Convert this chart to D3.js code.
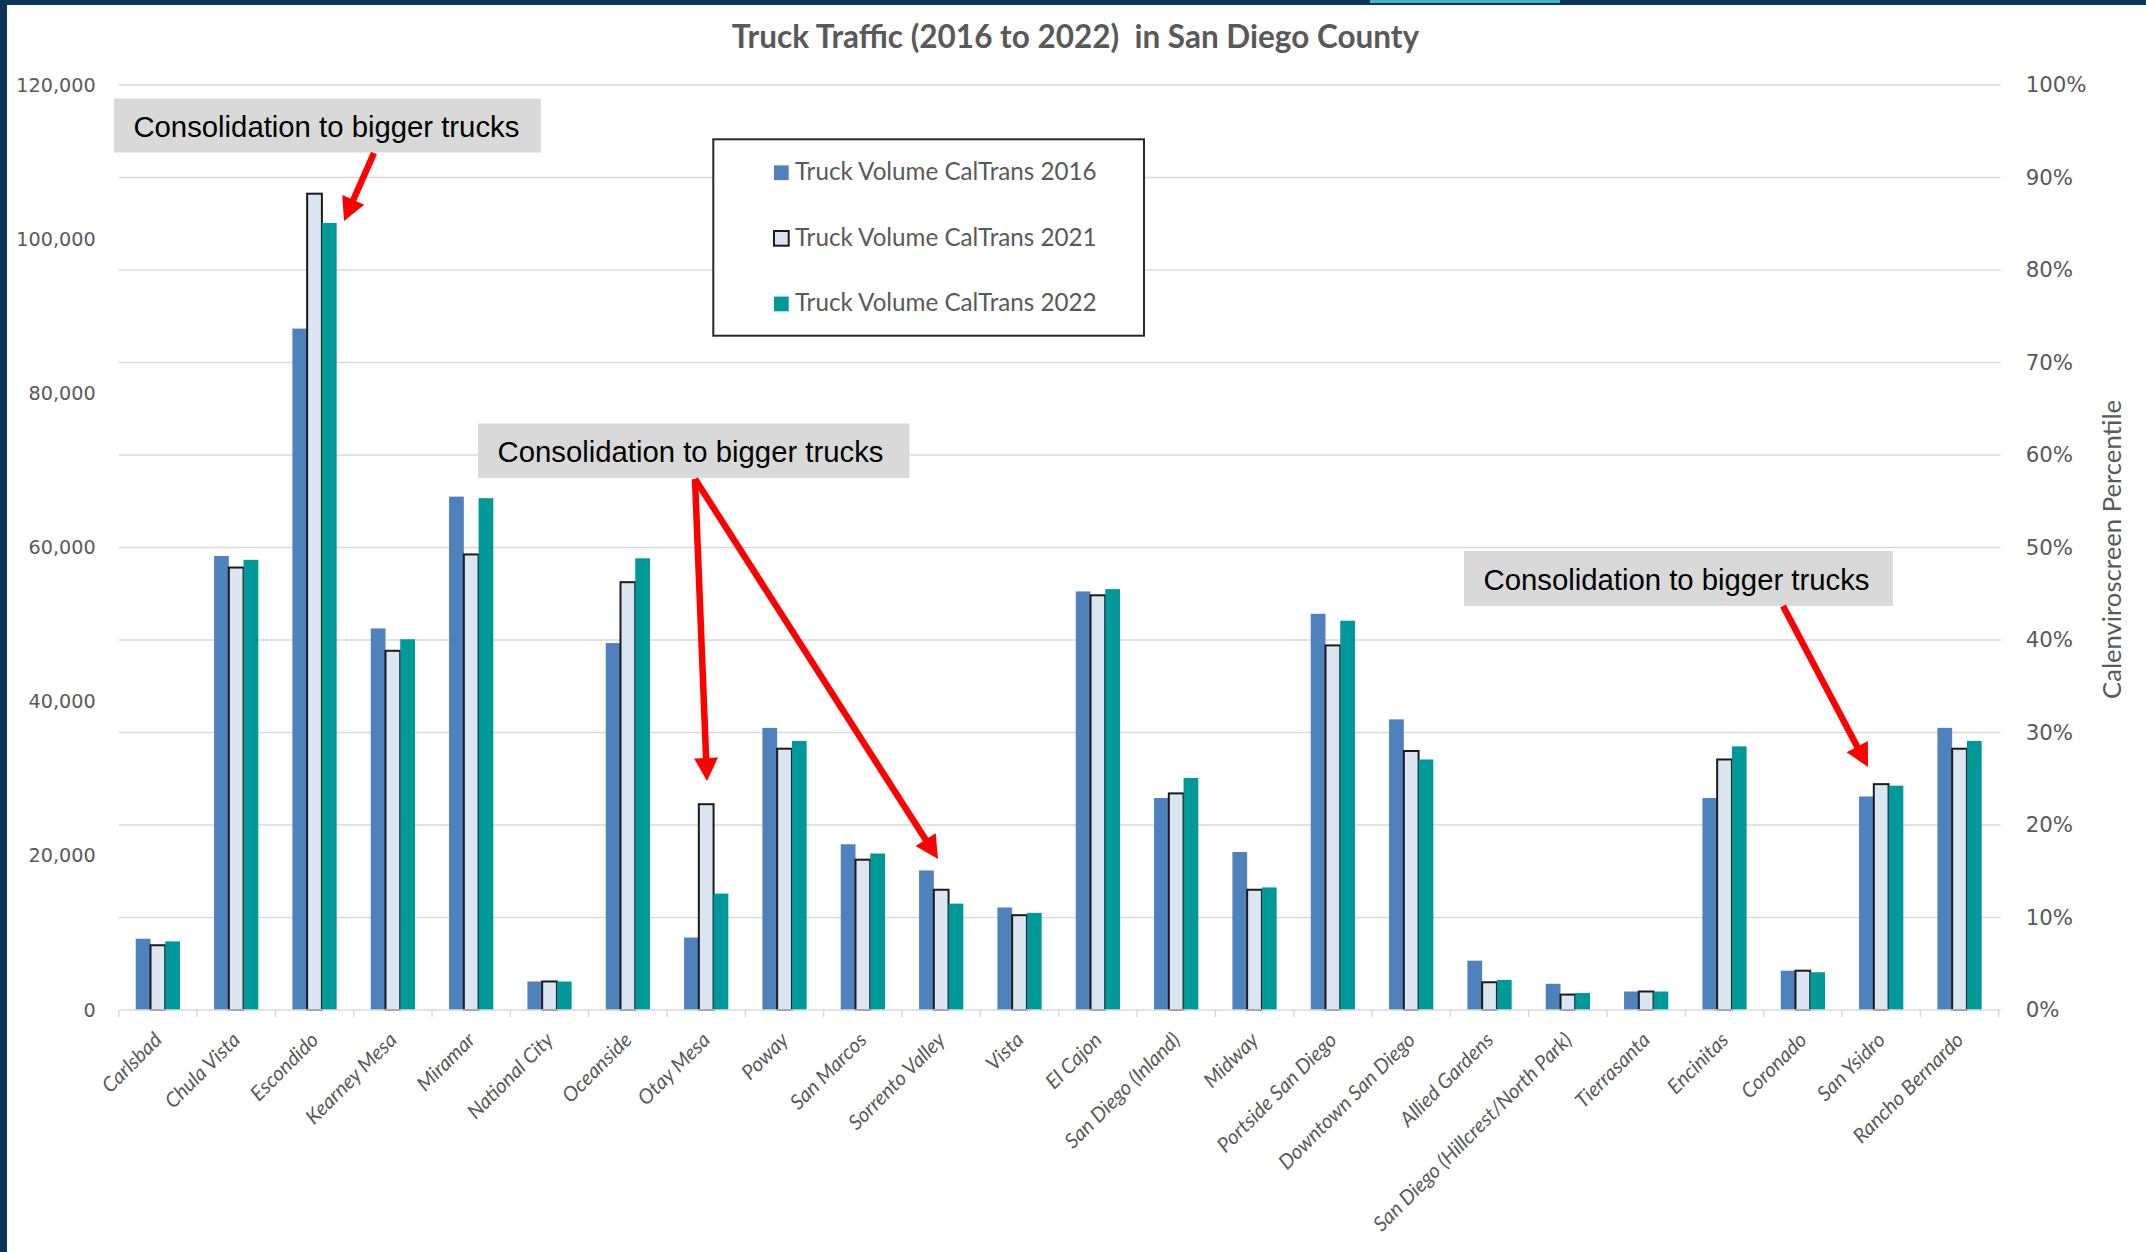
<!DOCTYPE html>
<html>
<head>
<meta charset="utf-8">
<script src="https://cdn.jsdelivr.net/npm/d3@7"></script>
<style>
  html, body { margin: 0; padding: 0; background: #ffffff; }
  svg { display: block; }
</style>
</head>
<body>
<svg id="chart" width="2146" height="1252"></svg>
<script>
// ---- data -------------------------------------------------------------
const categories = [
  "Carlsbad", "Chula Vista", "Escondido", "Kearney Mesa", "Miramar", "National City",
  "Oceanside", "Otay Mesa", "Poway", "San Marcos", "Sorrento Valley", "Vista",
  "El Cajon", "San Diego (Inland)", "Midway", "Portside San Diego", "Downtown San Diego",
  "Allied Gardens", "San Diego (Hillcrest/North Park)", "Tierrasanta", "Encinitas",
  "Coronado", "San Ysidro", "Rancho Bernardo"
];
const truck2016 = [9250, 58900, 88400, 49500, 66600, 3700, 47600, 9400, 36600, 21500, 18100, 13300,
                   54300, 27500, 20500, 51400, 37700, 6400, 3400, 2400, 27500, 5100, 27700, 36600];
const truck2021 = [8400, 57400, 105900, 46600, 59100, 3700, 55500, 26700, 33900, 19500, 15600, 12300,
                   53800, 28100, 15600, 47300, 33600, 3600, 2000, 2400, 32500, 5100, 29300, 33900];
const truck2022 = [8900, 58400, 102100, 48100, 66400, 3700, 58600, 15100, 34900, 20300, 13800, 12600,
                   54600, 30100, 15900, 50500, 32500, 3900, 2200, 2400, 34200, 4900, 29100, 34900];
const seriesNames = ["Truck Volume CalTrans 2016", "Truck Volume CalTrans 2021", "Truck Volume CalTrans 2022"];
const leftTicks = [0, 20000, 40000, 60000, 80000, 100000, 120000];
const rightTicks = [0, 0.1, 0.2, 0.3, 0.4, 0.5, 0.6, 0.7, 0.8, 0.9, 1.0];
const titleText = "Truck Traffic (2016 to 2022)  in San Diego County";
const rightAxisTitle = "Calenviroscreen Percentile";
const noteText = "Consolidation to bigger trucks";

// ---- layout -----------------------------------------------------------
const W = 2146, H = 1252;
const plot = { left: 118.7, right: 1998.7, top: 85, bottom: 1010 };
const colors = ["#4f81bd", "#dce6f2", "#009999"];
const grey = "#595959";
const gridColor = "#d9d9d9";

const svg = d3.select("#chart");

// window frame edges
svg.append("rect").attr("x", 0).attr("y", 0).attr("width", W).attr("height", H).attr("fill", "#ffffff");
svg.append("rect").attr("x", 0).attr("y", 0).attr("width", W).attr("height", 5).attr("fill", "#0c3553");
svg.append("rect").attr("x", 1370).attr("y", 0).attr("width", 190).attr("height", 3).attr("fill", "#3fb6c2");
svg.append("rect").attr("x", 0).attr("y", 0).attr("width", 7).attr("height", H).attr("fill", "#0c3553");

// ---- scales -----------------------------------------------------------
const x0 = d3.scaleBand().domain(categories).range([plot.left, plot.right]).padding(0);
const bw = x0.bandwidth();
const x1 = d3.scaleBand().domain(d3.range(3)).range([bw * 0.2175, bw * 0.7825]).padding(0);
const y = d3.scaleLinear().domain([0, 120000]).range([plot.bottom, plot.top]);
const yR = d3.scaleLinear().domain([0, 1]).range([plot.bottom, plot.top]);

// ---- gridlines (secondary axis ticks) ---------------------------------
svg.append("g").selectAll("line")
  .data(rightTicks.filter(d => d > 0))
  .join("line")
  .attr("x1", plot.left).attr("x2", plot.right + 2)
  .attr("y1", d => yR(d)).attr("y2", d => yR(d))
  .attr("stroke", gridColor).attr("stroke-width", 1.5);

// ---- title ------------------------------------------------------------
svg.append("text")
  .attr("x", 1075.5).attr("y", 48)
  .attr("text-anchor", "middle")
  .style("white-space", "pre")
  .attr("font-family", "Lato, 'Open Sans', sans-serif")
  .attr("font-weight", "bold")
  .attr("font-size", 31.5)
  .attr("fill", grey)
  .text(titleText);

// ---- left axis --------------------------------------------------------
const leftAxis = svg.append("g")
  .attr("transform", `translate(${plot.left},0)`)
  .call(d3.axisLeft(y).tickValues(leftTicks).tickSize(0).tickPadding(23).tickFormat(d3.format(",")));
leftAxis.select(".domain").remove();
leftAxis.selectAll("text")
  .attr("font-family", "'DejaVu Sans', Verdana, sans-serif")
  .attr("font-size", 19.2)
  .attr("fill", grey);

// ---- right axis -------------------------------------------------------
const rightAxis = svg.append("g")
  .attr("transform", `translate(${plot.right},0)`)
  .call(d3.axisRight(yR).tickValues(rightTicks).tickSize(0).tickPadding(27).tickFormat(d3.format(".0%")));
rightAxis.select(".domain").remove();
rightAxis.selectAll("text")
  .attr("font-family", "'DejaVu Sans', Verdana, sans-serif")
  .attr("font-size", 21.3)
  .attr("fill", grey);

svg.append("text")
  .attr("transform", `translate(2121,549.5) rotate(-90)`)
  .attr("text-anchor", "middle")
  .attr("font-family", "Lato, sans-serif")
  .attr("font-size", 25.7)
  .attr("fill", grey)
  .text(rightAxisTitle);

// ---- bars -------------------------------------------------------------
const seriesValues = [truck2016, truck2021, truck2022];
const groups = svg.append("g").selectAll("g")
  .data(categories)
  .join("g")
  .attr("transform", d => `translate(${x0(d)},0)`);

groups.selectAll("rect")
  .data((d, i) => seriesValues.map((vals, s) => ({ s, v: vals[i] })))
  .join("rect")
  .attr("x", d => x1(d.s))
  .attr("y", d => y(d.v))
  .attr("width", x1.bandwidth())
  .attr("height", d => y(0) - y(d.v))
  .attr("fill", d => colors[d.s])
  .attr("stroke", d => d.s === 1 ? "#1a1a1a" : "none")
  .attr("stroke-width", d => d.s === 1 ? 2 : 0);

// ---- category axis ----------------------------------------------------
svg.append("line")
  .attr("x1", plot.left).attr("x2", plot.right + 2)
  .attr("y1", plot.bottom).attr("y2", plot.bottom)
  .attr("stroke", gridColor).attr("stroke-width", 1.5);

const boundaries = categories.map(c => x0(c)).concat([plot.right]);
svg.append("g").selectAll("line")
  .data(boundaries)
  .join("line")
  .attr("x1", d => d).attr("x2", d => d)
  .attr("y1", plot.bottom).attr("y2", plot.bottom + 7)
  .attr("stroke", gridColor).attr("stroke-width", 1.5);

const xAxis = svg.append("g")
  .attr("transform", `translate(0,${plot.bottom})`)
  .call(d3.axisBottom(x0).tickSize(0).tickPadding(0));
xAxis.select(".domain").remove();
xAxis.selectAll("text")
  .attr("text-anchor", "end")
  .attr("x", 0).attr("y", 0)
  .attr("dy", "0.71em")
  .attr("transform", "translate(-5,21) rotate(-45)")
  .attr("font-family", "Lato, sans-serif")
  .attr("font-style", "italic")
  .attr("font-size", 20.4)
  .attr("fill", grey);

// ---- legend -----------------------------------------------------------
const legend = svg.append("g");
legend.append("rect")
  .attr("x", 713.3).attr("y", 139.3).attr("width", 430.7).attr("height", 196.4)
  .attr("fill", "#ffffff").attr("stroke", "#262626").attr("stroke-width", 2);
const legendRows = legend.selectAll("g.row")
  .data(seriesNames)
  .join("g").attr("class", "row")
  .attr("transform", (d, i) => `translate(0,${172.7 + i * 65.6})`);
legendRows.append("rect")
  .attr("x", 774).attr("y", -7.3).attr("width", 14.7).attr("height", 14.7)
  .attr("fill", (d, i) => colors[i])
  .attr("stroke", (d, i) => i === 1 ? "#1a1a1a" : "none")
  .attr("stroke-width", 2);
legendRows.append("text")
  .attr("x", 795).attr("y", 7.5)
  .attr("font-family", "Lato, sans-serif")
  .attr("font-size", 24.2)
  .attr("fill", grey)
  .text(d => d);

// ---- annotations ------------------------------------------------------
const notes = [
  { box: [113.9, 98.5, 427, 54], arrows: [[[374, 153], [344, 221]]] },
  { box: [478, 423.5, 431.5, 54.5], arrows: [[[695, 479], [707, 781]], [[695, 479], [938, 859]]] },
  { box: [1464, 551, 429, 55], arrows: [[[1783, 606], [1868, 767]]] }
];
const noteLayer = svg.append("g");
notes.forEach(n => {
  const [bx, by, bwid, bh] = n.box;
  noteLayer.append("rect")
    .attr("x", bx).attr("y", by).attr("width", bwid).attr("height", bh)
    .attr("fill", "#d9d9d9");
  noteLayer.append("text")
    .attr("x", bx + 19.5).attr("y", by + 38.8)
    .attr("font-family", "'Liberation Sans', Arial, sans-serif")
    .attr("font-size", 29.3)
    .attr("fill", "#000000")
    .text(noteText);
  n.arrows.forEach(([from, to]) => {
    const dx = to[0] - from[0], dy = to[1] - from[1];
    const len = Math.hypot(dx, dy);
    const ux = dx / len, uy = dy / len;
    const headLen = 23, headHalf = 12;
    const bxp = to[0] - ux * headLen, byp = to[1] - uy * headLen;
    noteLayer.append("line")
      .attr("x1", from[0]).attr("y1", from[1])
      .attr("x2", bxp + ux * 2).attr("y2", byp + uy * 2)
      .attr("stroke", "#ff0000").attr("stroke-width", 6.5);
    noteLayer.append("polygon")
      .attr("points", [
        [to[0], to[1]],
        [bxp - uy * headHalf, byp + ux * headHalf],
        [bxp + uy * headHalf, byp - ux * headHalf]
      ].map(p => p.join(",")).join(" "))
      .attr("fill", "#ff0000");
  });
});
</script>
</body>
</html>
